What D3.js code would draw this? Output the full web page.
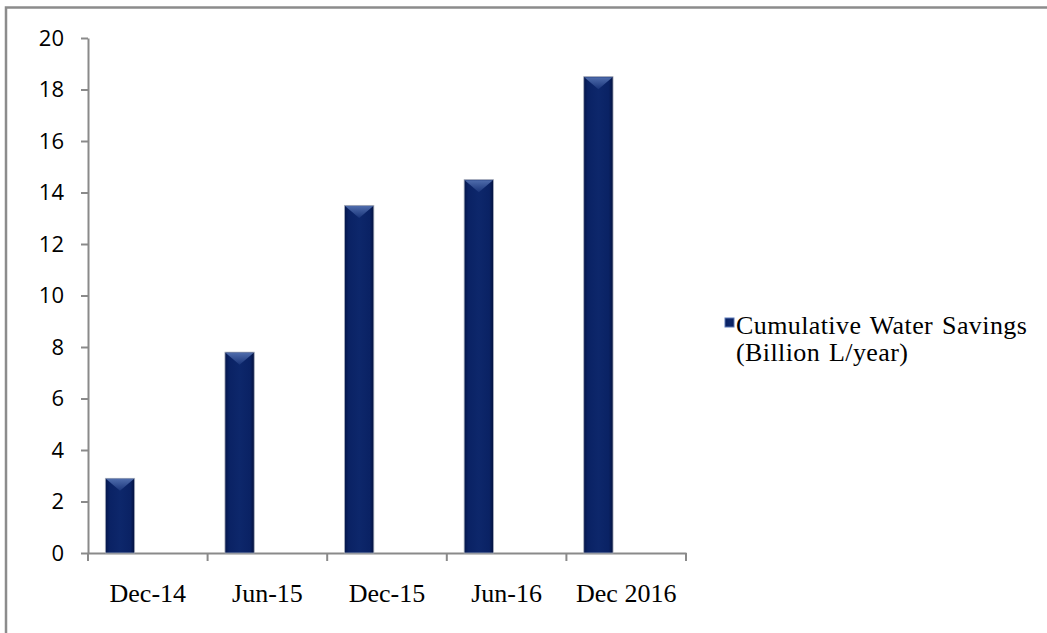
<!DOCTYPE html>
<html>
<head>
<meta charset="utf-8">
<script src="https://cdn.jsdelivr.net/npm/d3@7"></script>
<style>
  html, body { margin: 0; padding: 0; background: #fff; overflow: hidden; }
</style>
</head>
<body>
<svg id="chart" width="1047" height="633"></svg>
<script>
// data
const categories = ["Dec-14", "Jun-15", "Dec-15", "Jun-16", "Dec 2016"];
const values = [2.9, 7.8, 13.5, 14.5, 18.5];
const yTicks = [0, 2, 4, 6, 8, 10, 12, 14, 16, 18, 20];
const seriesName = ["Cumulative Water Savings", "(Billion L/year)"];

const width = 1047, height = 633;
const margin = { top: 38, left: 88, right: 361, bottom: 80 };
const axisColour = "#8a8a8a";
const serif = "'Liberation Serif', 'Times New Roman', serif";

const svg = d3.select("#chart");

// gradients for the bevelled bars
const defs = svg.append("defs");
const sideGrad = defs.append("linearGradient").attr("id", "barSide")
    .attr("x1", "0").attr("x2", "1").attr("y1", "0").attr("y2", "0");
[[0, "#04164a"], [0.14, "#0a2264"], [0.5, "#0d276b"], [0.86, "#0a2264"], [1, "#03113d"]]
    .forEach(([o, c]) => sideGrad.append("stop").attr("offset", o).attr("stop-color", c));
const topGrad = defs.append("linearGradient").attr("id", "barTop")
    .attr("x1", "0").attr("x2", "0").attr("y1", "0").attr("y2", "1");
[[0, "#5b79b8"], [1, "#1c377c"]]
    .forEach(([o, c]) => topGrad.append("stop").attr("offset", o).attr("stop-color", c));

// outer frame (right/bottom edges run off the picture)
svg.append("rect")
    .attr("x", 6).attr("y", 7.5)
    .attr("width", 1100).attr("height", 700)
    .attr("fill", "none")
    .attr("stroke", "#8c8c8c")
    .attr("stroke-width", 2.5);

// scales
const x = d3.scaleBand()
    .domain(categories)
    .range([margin.left, width - margin.right])
    .paddingInner(0).paddingOuter(0);
const y = d3.scaleLinear()
    .domain([0, 20])
    .range([height - margin.bottom, margin.top]);

// y axis
const yAxisG = svg.append("g")
    .attr("transform", `translate(${margin.left},0)`)
    .call(d3.axisLeft(y).tickValues(yTicks).tickSize(7).tickPadding(17).tickSizeOuter(0));
yAxisG.select(".domain").attr("stroke", axisColour).attr("stroke-width", 2);
yAxisG.selectAll(".tick line").attr("stroke", axisColour).attr("stroke-width", 2);
yAxisG.selectAll(".tick text")
    .attr("fill", "#000")
    .style("font-family", "'Open Sans', 'Liberation Sans', sans-serif")
    .style("font-size", "22px");

// x axis (labels at band centres, ticks at band edges)
const xAxisG = svg.append("g")
    .attr("transform", `translate(0,${y(0)})`)
    .call(d3.axisBottom(x).tickSize(0).tickPadding(31).tickSizeOuter(0));
xAxisG.select(".domain").attr("stroke", axisColour).attr("stroke-width", 2);
xAxisG.selectAll(".tick text")
    .attr("fill", "#000")
    .style("font-family", serif)
    .style("font-weight", "normal")
    .style("font-size", "26px");
const edges = categories.map(c => x(c)).concat([x.range()[1]]);
xAxisG.selectAll("line.edge").data(edges).enter()
    .append("line")
        .attr("class", "edge")
        .attr("x1", d => d).attr("x2", d => d)
        .attr("y1", 0).attr("y2", 8)
        .attr("stroke", axisColour)
        .attr("stroke-width", 2);

// bars
const barOffset = x.bandwidth() * 0.145;
const barWidth = x.bandwidth() * 0.245;
const bevel = 12;

const barG = svg.append("g").selectAll("g.bar")
    .data(categories.map((c, i) => ({ cat: c, value: values[i] })))
    .enter()
    .append("g")
        .attr("class", "bar");

barG.append("rect")
    .attr("x", d => x(d.cat) + barOffset)
    .attr("y", d => y(d.value))
    .attr("width", barWidth)
    .attr("height", d => y(0) - y(d.value))
    .attr("fill", "url(#barSide)")
    .attr("stroke", "#a9afbd")
    .attr("stroke-width", 0.8);

barG.append("polygon")
    .attr("points", d => {
        const x0 = x(d.cat) + barOffset + 0.5, x1 = x0 + barWidth - 1;
        const yt = y(d.value) + 0.5;
        return `${x0},${yt} ${x1},${yt} ${(x0 + x1) / 2},${yt + bevel}`;
    })
    .attr("fill", "url(#barTop)")
    .attr("opacity", 0.85);

// legend
const legend = svg.append("g").attr("transform", "translate(725,318)");
legend.append("rect")
    .attr("width", 9).attr("height", 9)
    .attr("fill", "url(#barSide)")
    .attr("stroke", "#5b79b8")
    .attr("stroke-width", 1);
legend.append("text")
    .attr("x", 11)
    .attr("y", 16)
    .style("font-family", serif)
    .style("font-size", "26px")
    .style("letter-spacing", "0.4px")
    .style("word-spacing", "2px")
    .attr("fill", "#000")
    .selectAll("tspan").data(seriesName).enter()
    .append("tspan")
        .attr("x", 11)
        .attr("dy", (d, i) => i === 0 ? 0 : 26.5)
        .text(d => d);
</script>
</body>
</html>
